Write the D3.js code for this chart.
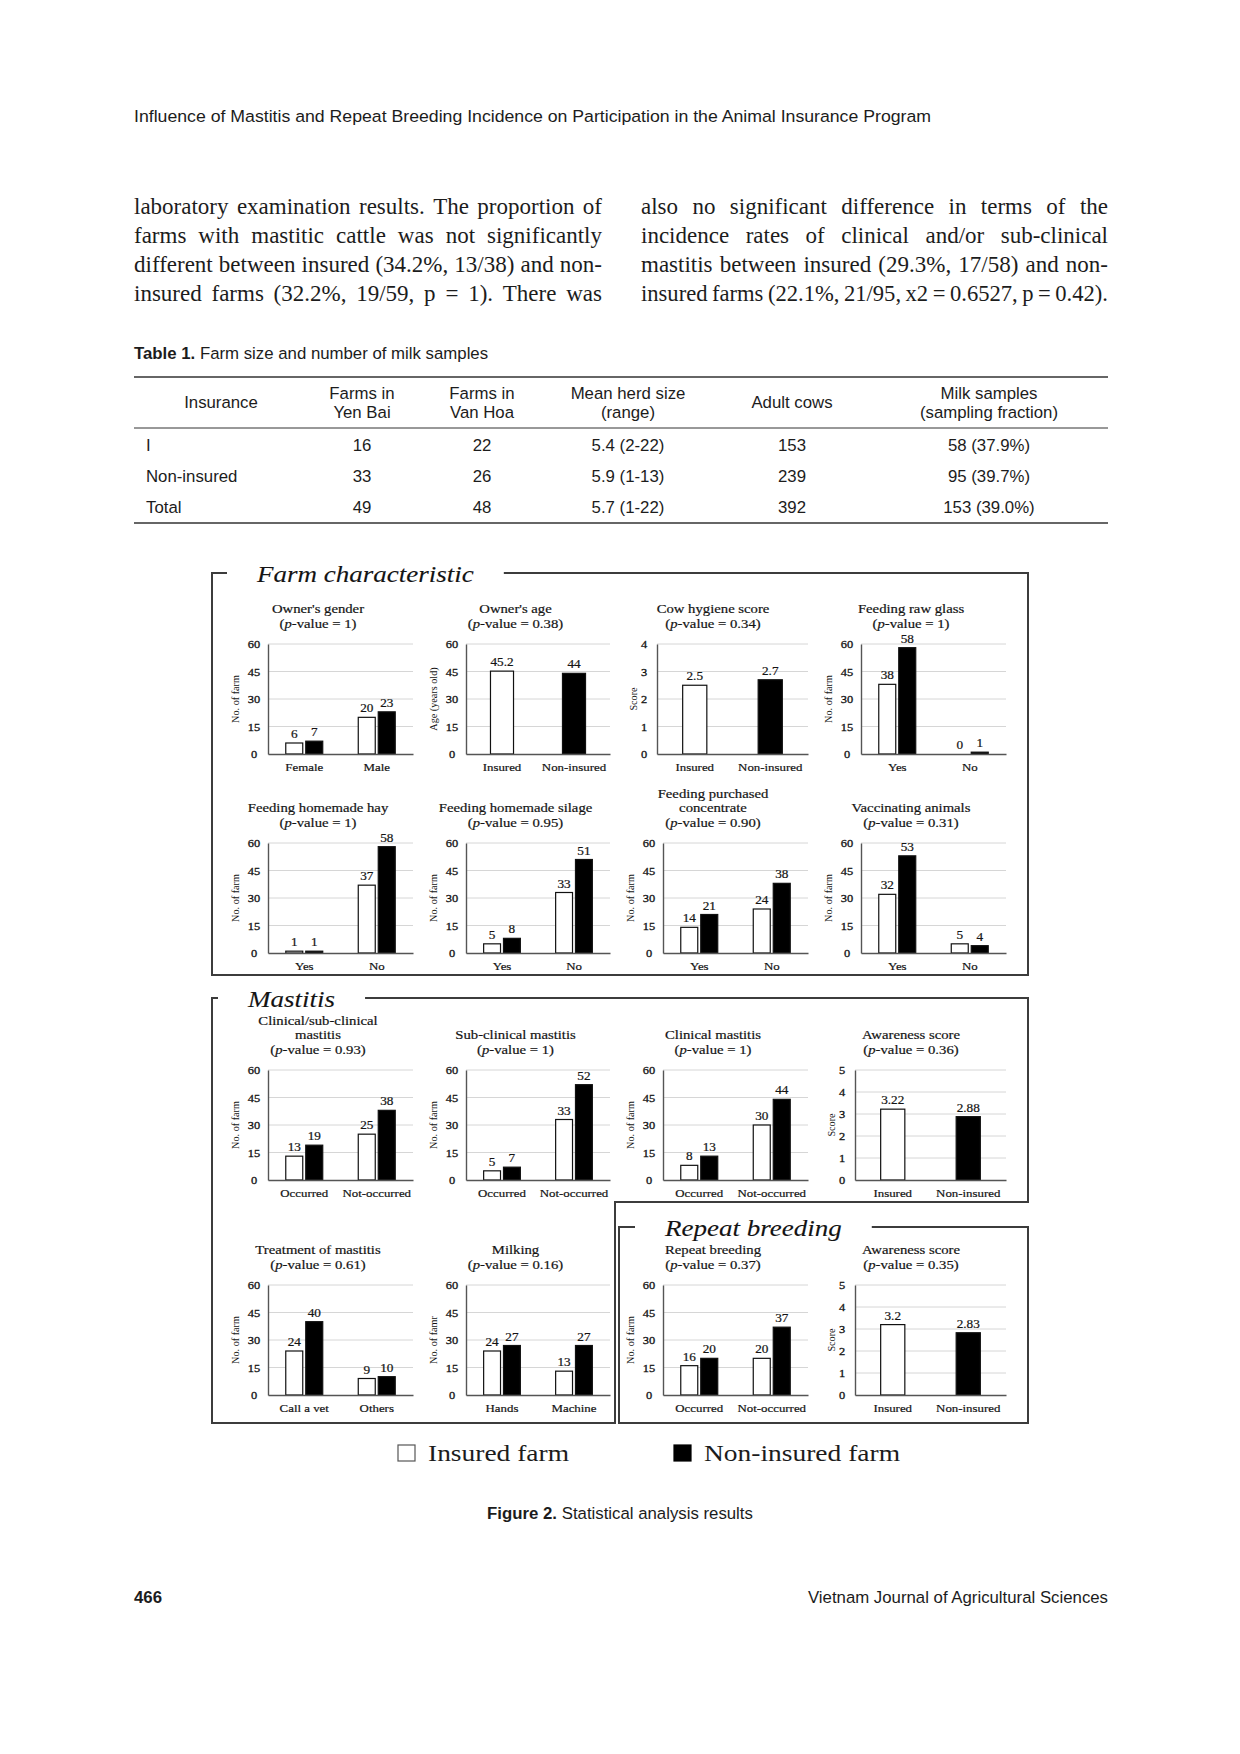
<!DOCTYPE html>
<html>
<head>
<meta charset="utf-8">
<script src="https://cdn.jsdelivr.net/npm/d3@7"></script>
<style>
  html, body { margin: 0; padding: 0; background: #fff; }
  svg { display: block; }
</style>
</head>
<body>
<svg id="page" width="1240" height="1754"></svg>
<script>
// ---------- page text ----------
const runningHead = "Influence of Mastitis and Repeat Breeding Incidence on Participation in the Animal Insurance Program";
const paragraphLeft = [
  "laboratory examination results. The proportion of",
  "farms with mastitic cattle was not significantly",
  "different between insured (34.2%, 13/38) and non-",
  "insured farms (32.2%, 19/59, p = 1). There was"
];
const paragraphRight = [
  "also no significant difference in terms of the",
  "incidence rates of clinical and/or sub-clinical",
  "mastitis between insured (29.3%, 17/58) and non-",
  "insured farms (22.1%, 21/95, x2 = 0.6527, p = 0.42)."
];

// ---------- table ----------
const tableHeader = [["Insurance"], ["Farms in", "Yen Bai"], ["Farms in", "Van Hoa"],
  ["Mean herd size", "(range)"], ["Adult cows"], ["Milk samples", "(sampling fraction)"]];
const tableRows = [
  ["I", "16", "22", "5.4 (2-22)", "153", "58 (37.9%)"],
  ["Non-insured", "33", "26", "5.9 (1-13)", "239", "95 (39.7%)"],
  ["Total", "49", "48", "5.7 (1-22)", "392", "153 (39.0%)"]
];

// ---------- figure data ----------
const chartTitles = [
  ["Owner's gender"], ["Owner's age"], ["Cow hygiene score"], ["Feeding raw glass"],
  ["Feeding homemade hay"], ["Feeding homemade silage"], ["Feeding purchased", "concentrate"], ["Vaccinating animals"],
  ["Clinical/sub-clinical", "mastitis"], ["Sub-clinical mastitis"], ["Clinical mastitis"], ["Awareness score"],
  ["Treatment of mastitis"], ["Milking"], ["Repeat breeding"], ["Awareness score"]
];
const chartPValues = ["1", "0.38", "0.34", "1", "1", "0.95", "0.90", "0.31",
  "0.93", "1", "1", "0.36", "0.61", "0.16", "0.37", "0.35"];
const chartCategories = [
  ["Female", "Male"], ["Insured", "Non-insured"], ["Insured", "Non-insured"], ["Yes", "No"],
  ["Yes", "No"], ["Yes", "No"], ["Yes", "No"], ["Yes", "No"],
  ["Occurred", "Not-occurred"], ["Occurred", "Not-occurred"], ["Occurred", "Not-occurred"], ["Insured", "Non-insured"],
  ["Call a vet", "Others"], ["Hands", "Machine"], ["Occurred", "Not-occurred"], ["Insured", "Non-insured"]
];
const insuredValues = [
  [6, 20], [45.2], [2.5], [38, 0],
  [1, 37], [5, 33], [14, 24], [32, 5],
  [13, 25], [5, 33], [8, 30], [3.22],
  [24, 9], [24, 13], [16, 20], [3.2]
];
const nonInsuredValues = [
  [7, 23], [44], [2.7], [58, 1],
  [1, 58], [8, 51], [21, 38], [53, 4],
  [19, 38], [7, 52], [13, 44], [2.88],
  [40, 10], [27, 27], [20, 37], [2.83]
];
const chartAxisTitles = [
  "No. of farm", "Age (years old)", "Score", "No. of farm",
  "No. of farm", "No. of farm", "No. of farm", "No. of farm",
  "No. of farm", "No. of farm", "No. of farm", "Score",
  "No. of farm", "No. of famr", "No. of farm", "Score"
];
const chartYMax = [60, 60, 4, 60, 60, 60, 60, 60, 60, 60, 60, 5, 60, 60, 60, 5];
const chartYStep = [15, 15, 1, 15, 15, 15, 15, 15, 15, 15, 15, 1, 15, 15, 15, 1];
const sectionTitles = ["Farm characteristic", "Mastitis", "Repeat breeding"];
const legendLabels = ["Insured farm", "Non-insured farm"];

// ---------- drawing ----------
const SERIF = '"Liberation Serif","Times New Roman",serif';
const SANS = '"Liberation Sans",Arial,sans-serif';
const INK = "#1c1c1c";
const FIG_INK = "#141414";
const SX = 1.15; // the figure is a bit stretched sideways

const svg = d3.select("#page");

function sansText(str, x, y, opts = {}) {
  return svg.append("text")
    .attr("x", x).attr("y", y)
    .attr("text-anchor", opts.anchor || "start")
    .style("font-family", SANS)
    .style("font-size", (opts.size || 16.8) + "px")
    .style("font-weight", opts.bold ? "bold" : "normal")
    .attr("fill", INK)
    .text(str);
}

// running head
sansText(runningHead, 134, 122).attr("textLength", 797).attr("lengthAdjust", "spacingAndGlyphs");

// justified paragraph lines
function justifyLine(str, x0, y, width) {
  const t = svg.append("text").attr("y", y)
    .style("font-family", SERIF).style("font-size", "23px").attr("fill", INK);
  const words = str.split(" ");
  const spans = words.map(w => t.append("tspan").text(w));
  const ws = spans.map(s => s.node().getComputedTextLength());
  const total = d3.sum(ws);
  const minGap = 23 * 0.2;
  let gap = (width - total) / (words.length - 1);
  let k = 1;
  if (gap < minGap) {
    gap = minGap;
    k = width / (total + gap * (words.length - 1));
  }
  let cx = 0;
  spans.forEach((s, i) => { s.attr("x", cx); cx += ws[i] + gap; });
  t.attr("transform", `translate(${x0},0) scale(${k},1)`);
}
paragraphLeft.forEach((l, i) => justifyLine(l, 134, 214 + i * 29, 468));
paragraphRight.forEach((l, i) => justifyLine(l, 641, 214 + i * 29, 467));

// table
const tt = sansText("", 134, 359);
tt.append("tspan").style("font-weight", "bold").text("Table 1.");
tt.append("tspan").text(" Farm size and number of milk samples");

const colCenters = [221, 362, 482, 628, 792, 989];
[[377, 1.5], [428, 1], [523, 1.5]].forEach(([yy, w]) => {
  svg.append("line").attr("x1", 134).attr("x2", 1108).attr("y1", yy).attr("y2", yy)
    .attr("stroke", "#333").attr("stroke-width", w);
});
tableHeader.forEach((lines, c) => {
  lines.forEach((l, j) => {
    const yy = lines.length === 1 ? 408 : 399 + j * 19;
    sansText(l, colCenters[c], yy, { anchor: "middle" });
  });
});
tableRows.forEach((row, r) => {
  row.forEach((cell, c) => {
    const yy = 451 + r * 31;
    if (c === 0) sansText(cell, 146, yy);
    else sansText(cell, colCenters[c], yy, { anchor: "middle" });
  });
});

// ---------- figure ----------
const fig = svg.append("g").attr("class", "figure");

function figText(parent, x, y, str, size, anchor) {
  return parent.append("text")
    .attr("transform", `translate(${x},${y}) scale(${SX},1)`)
    .attr("text-anchor", anchor || "middle")
    .style("font-family", SERIF)
    .style("font-size", size + "px")
    .attr("fill", FIG_INK)
    .attr("stroke", FIG_INK).attr("stroke-width", 0.2)
    .text(str);
}

const colL = [223, 421, 618, 816];
const colR = [413, 610, 808, 1006];
const rowTop = [644, 843, 1070, 1285];
const plotH = 110;

chartTitles.forEach((lines, i) => {
  const col = i % 4, row = Math.floor(i / 4);
  const top = rowTop[row], bottom = top + plotH;
  const yMax = chartYMax[i];
  const oneDigit = yMax < 10;
  const ax = colL[col] + (oneDigit ? 39 : 45);
  const right = colR[col];
  const single = insuredValues[i].length === 1;
  const g = fig.append("g").attr("class", "chart");

  const y = d3.scaleLinear().domain([0, yMax]).range([bottom, top]);
  const ticks = d3.range(0, yMax + 1e-9, chartYStep[i]);
  const x = d3.scaleBand().domain(chartCategories[i]).range([ax, right])
    .paddingInner(single ? 0.68 : 0.49).paddingOuter(single ? 0.34 : 0.245);
  const inner = d3.scaleBand().domain(["ins", "non"]).range([0, x.bandwidth()]).paddingInner(0.15);

  // title
  const allLines = lines.length;
  const titleX = (colL[col] + right) / 2;
  const lastY = top - 16.5;
  lines.forEach((l, j) => {
    figText(g, titleX, lastY - (allLines - j) * 14.5, l, 12.8);
  });
  const pt = figText(g, titleX, lastY, "", 12.8);
  pt.append("tspan").text("(");
  pt.append("tspan").style("font-style", "italic").text("p");
  pt.append("tspan").text(`-value = ${chartPValues[i]})`);

  // grid
  g.append("g").selectAll("line").data(ticks.filter(t => t > 0)).join("line")
    .attr("x1", ax).attr("x2", right)
    .attr("y1", d => y(d)).attr("y2", d => y(d))
    .attr("stroke", "#d6d6d6").attr("stroke-width", 1);

  // y axis
  const yAxis = g.append("g").attr("transform", `translate(${ax},0)`)
    .call(d3.axisLeft(y).tickValues(ticks).tickFormat(d3.format("d")).tickSize(0).tickSizeOuter(0));
  yAxis.select(".domain").attr("stroke", "#555").attr("stroke-width", 1.4);
  yAxis.selectAll(".tick text")
    .attr("x", null).attr("dy", "0.33em")
    .attr("transform", `translate(${oneDigit ? -13 : -14},0) scale(${SX},1)`)
    .attr("text-anchor", "middle")
    .style("font-family", SERIF).style("font-size", "10.8px")
    .attr("fill", FIG_INK).attr("stroke", FIG_INK).attr("stroke-width", 0.3);

  // axis title
  g.append("text")
    .attr("transform", `translate(${ax - (oneDigit ? 24 : 33)},${(top + bottom) / 2}) rotate(-90)`)
    .attr("dy", "0.35em").attr("text-anchor", "middle")
    .style("font-family", SERIF).style("font-size", "10.2px").attr("fill", FIG_INK)
    .text(chartAxisTitles[i]);

  // bars
  const bars = single
    ? [{ c: chartCategories[i][0], s: "ins", v: insuredValues[i][0] },
       { c: chartCategories[i][1], s: "non", v: nonInsuredValues[i][0] }]
    : chartCategories[i].flatMap((c, k) => [
        { c, s: "ins", v: insuredValues[i][k] },
        { c, s: "non", v: nonInsuredValues[i][k] }]);
  const bx = d => single ? x(d.c) : x(d.c) + inner(d.s);
  const bw = single ? x.bandwidth() : inner.bandwidth();

  g.append("g").selectAll("rect").data(bars.filter(d => d.v > 0)).join("rect")
    .attr("x", bx).attr("width", bw)
    .attr("y", d => y(d.v)).attr("height", d => y(0) - y(d.v))
    .attr("fill", d => d.s === "ins" ? "#fff" : "#000")
    .attr("stroke", "#111").attr("stroke-width", 1.2);

  bars.forEach(d => {
    figText(g, bx(d) + bw / 2, y(d.v) - 5, String(d.v), 11.5);
  });

  // x axis
  const xAxis = g.append("g").attr("transform", `translate(0,${bottom})`)
    .call(d3.axisBottom(x).tickSize(0).tickSizeOuter(0));
  xAxis.select(".domain").attr("stroke", "#555").attr("stroke-width", 1.4);
  xAxis.selectAll(".tick text")
    .attr("y", null).attr("dy", null)
    .attr("transform", `translate(0,16.5) scale(${SX},1)`)
    .style("font-family", SERIF).style("font-size", "11.2px")
    .attr("fill", FIG_INK).attr("stroke", FIG_INK).attr("stroke-width", 0.2);
});

// section frames
function sectionFrame(title, tx, lineY, pathFrom) {
  const t = figText(fig, tx, lineY + 9, title, 23.5, "start")
    .style("font-style", "italic").attr("stroke-width", 0.1);
  const w = t.node().getComputedTextLength() * SX;
  const pts = [[tx + w + 30, lineY]].concat(pathFrom).concat([[tx - 30, lineY]]);
  fig.append("path")
    .attr("d", d3.line()(pts))
    .attr("fill", "none").attr("stroke", "#3c3c3c").attr("stroke-width", 2);
}
sectionFrame(sectionTitles[0], 257, 573,
  [[1028, 573], [1028, 975], [212, 975], [212, 573]]);
sectionFrame(sectionTitles[1], 248, 998,
  [[1028, 998], [1028, 1202], [615, 1202], [615, 1423], [212, 1423], [212, 998]]);
sectionFrame(sectionTitles[2], 665, 1227,
  [[1028, 1227], [1028, 1423], [619, 1423], [619, 1227]]);

// legend
const legendX = [398, 674];
const legendTextW = [141, 196];
legendLabels.forEach((lab, k) => {
  fig.append("rect")
    .attr("x", legendX[k]).attr("y", 1445).attr("width", 17).attr("height", 16)
    .attr("fill", k === 0 ? "#fff" : "#000")
    .attr("stroke", k === 0 ? "#555" : "#000").attr("stroke-width", 1.2);
  fig.append("text")
    .attr("x", legendX[k] + 30).attr("y", 1461)
    .attr("textLength", legendTextW[k]).attr("lengthAdjust", "spacingAndGlyphs")
    .style("font-family", SERIF).style("font-size", "23px").attr("fill", INK)
    .text(lab);
});

// caption
const cap = sansText("", 620, 1519, { anchor: "middle" });
cap.append("tspan").style("font-weight", "bold").text("Figure 2.");
cap.append("tspan").text(" Statistical analysis results");

// footer
sansText("466", 134, 1603, { bold: true });
sansText("Vietnam Journal of Agricultural Sciences", 1108, 1603, { anchor: "end" });
</script>
</body>
</html>
